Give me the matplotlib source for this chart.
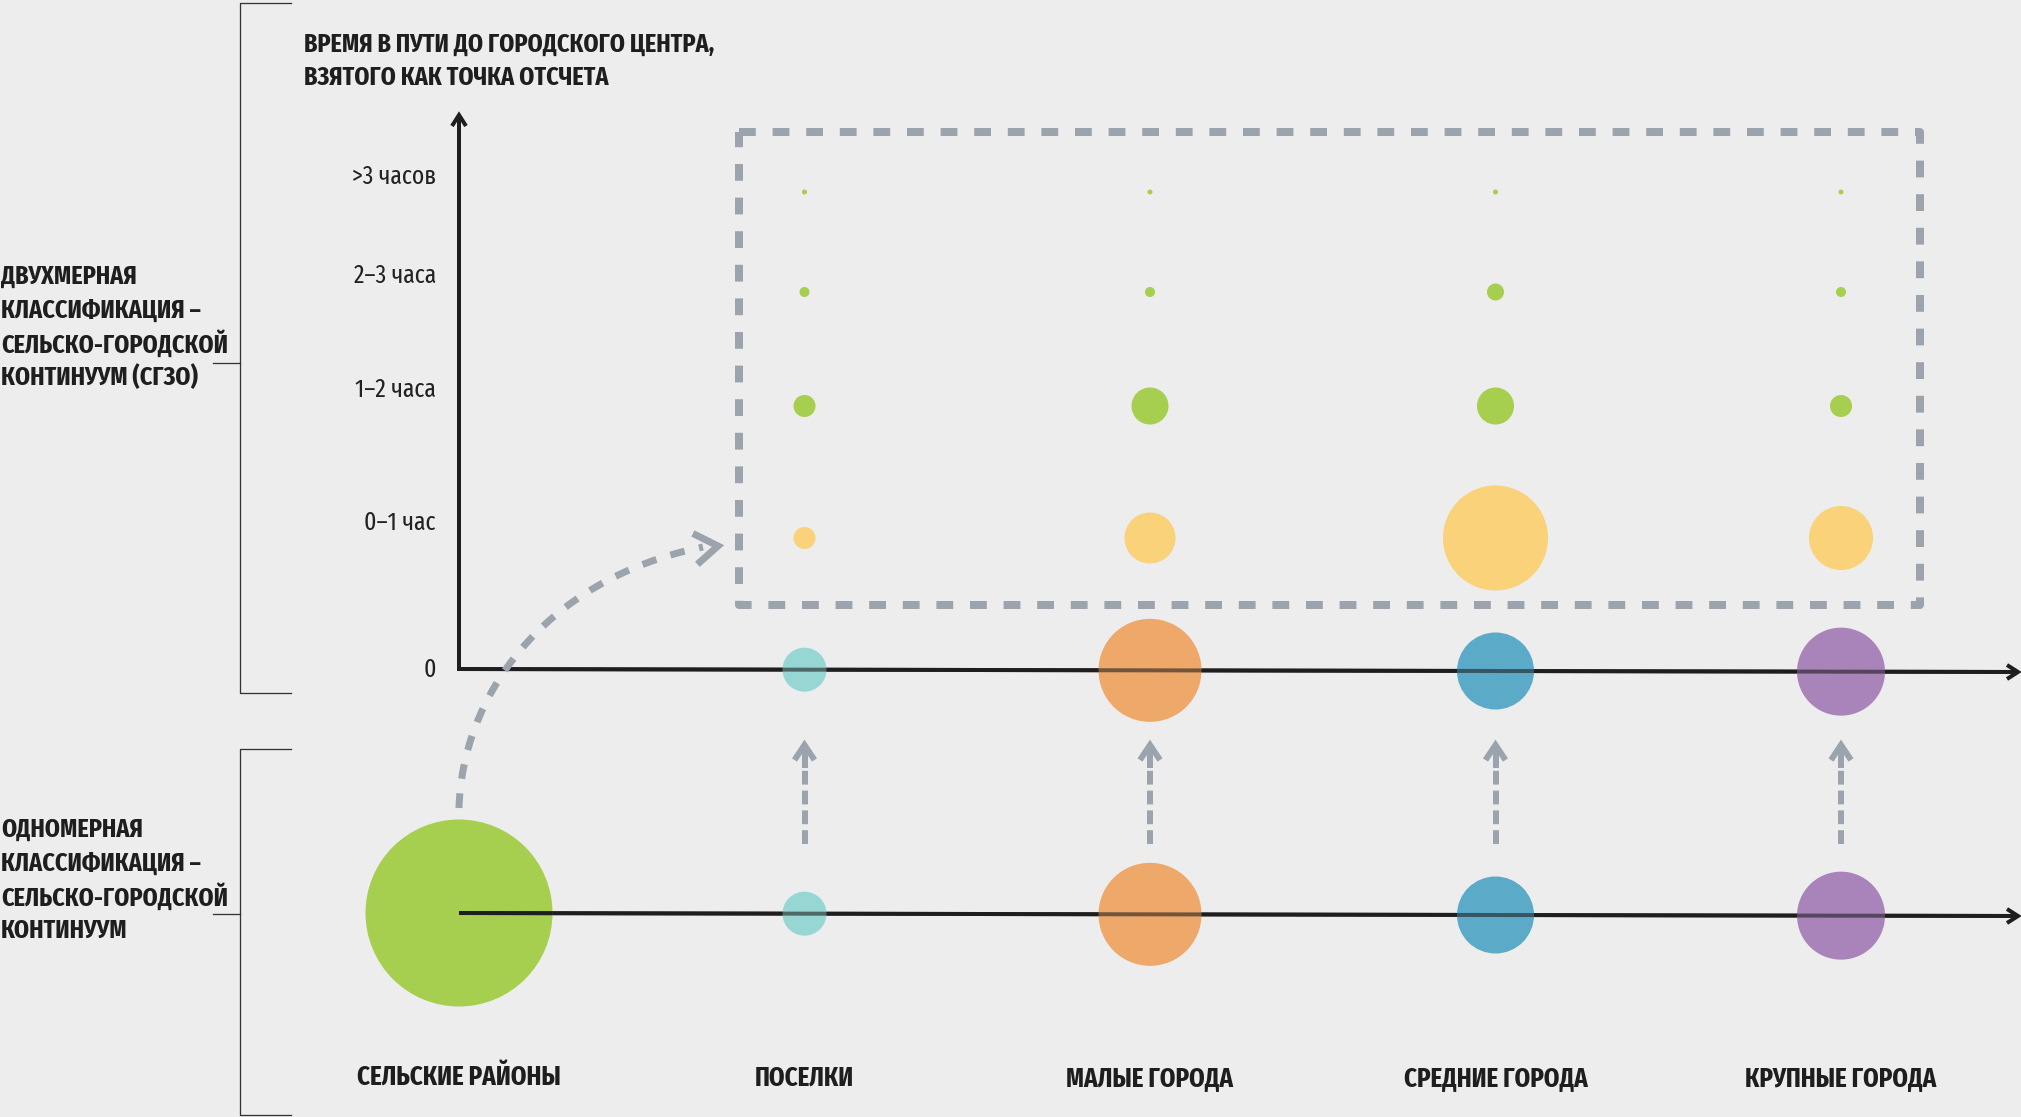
import numpy as np
from matplotlib import pyplot as plt
from matplotlib.patches import Circle, PathPatch
from matplotlib.path import Path

# --- data ---------------------------------------------------------------
CATEGORIES = ['СЕЛЬСКИЕ РАЙОНЫ', 'ПОСЕЛКИ', 'МАЛЫЕ ГОРОДА', 'СРЕДНИЕ ГОРОДА', 'КРУПНЫЕ ГОРОДА']
CAT_COLORS = ['#a6ce4f', '#97d7d3', '#eea86a', '#5aaac8', '#a984bb']

# bubble diameter (px) in the one-dimensional classification
ONE_DIM_SIZE = [187, 44, 103, 77, 88]

# two-dimensional classification: travel time rows for the urban classes
TIME_LABELS = ['0', '0–1 час', '1–2 часа', '2–3 часа', '>3 часов']
TIME_SIZE_01 = [22, 51, 105, 64]
TIME_SIZE_12 = [22, 37, 37, 22]
TIME_SIZE_23 = [10, 10, 17, 10]
TIME_SIZE_3P = [5, 5, 5, 5]
TIME_COLORS = ['#f9d27a', '#a6ce4f', '#a6ce4f', '#a6ce4f']

TITLE = ['ВРЕМЯ В ПУТИ ДО ГОРОДСКОГО ЦЕНТРА,', 'ВЗЯТОГО КАК ТОЧКА ОТСЧЕТА']
LABEL_2D = ['ДВУХМЕРНАЯ', 'КЛАССИФИКАЦИЯ –', 'СЕЛЬСКО-ГОРОДСКОЙ', 'КОНТИНУУМ (СГЗО)']
LABEL_1D = ['ОДНОМЕРНАЯ', 'КЛАССИФИКАЦИЯ –', 'СЕЛЬСКО-ГОРОДСКОЙ', 'КОНТИНУУМ']

# --- layout (pixel space) ----------------------------------------------
W, H = 2021, 1117
BG = '#ededed'
INK = '#1e1e1e'
GRAY = '#9ba4ac'
COL_X = 459 + 345.5*np.arange(len(CATEGORIES))
ROW_Y = [669, 538, 406, 292, 192]
TICK_Y = [670, 523, 390, 276, 177]
AXIS_END = 2018


def upper_y(x):
    return 669 + 3.*(x - 459)/(AXIS_END - 459)


def lower_y(x):
    return 913 + 3.*(x - 459)/(AXIS_END - 459)


def chevron(ax, tip, back, half, color, lw, vertical=False):
    tx, ty = tip
    if vertical:
        xs = [tx - half, tx, tx + half]
        ys = [ty + back, ty, ty + back]
    else:
        xs = [tx - back, tx, tx - back]
        ys = [ty - half, ty, ty + half]
    ax.plot(xs, ys, color=color, lw=lw, solid_capstyle='butt', solid_joinstyle='miter', zorder=5)


plt.rcParams['font.family'] = ['Fira Sans Extra Condensed', 'DejaVu Sans']

fig = plt.figure(figsize=(W/100., H/100.), dpi=100, facecolor=BG)
ax = fig.add_axes([0, 0, 1, 1])
ax.set_xlim(0, W)
ax.set_ylim(H, 0)
ax.axis('off')

PX = 0.72  # points per pixel at dpi 100

# brackets on the left
for top, bot, mid in [(3, 693, 363), (749, 1115, 914)]:
    ax.plot([291, 240, 240, 291], [top, top, bot, bot], color='#333333', lw=1.3*PX, zorder=1)
    ax.plot([213, 240], [mid, mid], color='#333333', lw=1.3*PX, zorder=1)

# axes: y axis and the two horizontal axes (drawn again, translucent, over the bubbles)
for alpha, z in [(1., 1), (0.6, 3)]:
    ax.plot([459, AXIS_END - 2], [upper_y(459), upper_y(AXIS_END - 2)], color=INK, lw=4*PX,
            alpha=alpha, zorder=z, solid_capstyle='butt')
    ax.plot([459, AXIS_END - 2], [lower_y(459), lower_y(AXIS_END - 2)], color=INK, lw=4*PX,
            alpha=alpha, zorder=z, solid_capstyle='butt')
ax.plot([459, 459 + ONE_DIM_SIZE[0]/2.], [lower_y(459), lower_y(459 + ONE_DIM_SIZE[0]/2.)],
        color=INK, lw=4*PX, zorder=4, solid_capstyle='butt')
ax.plot([459, 459], [upper_y(459) + 2, 116], color=INK, lw=4*PX, zorder=4, solid_capstyle='butt')
chevron(ax, (459, 115), 11, 7, INK, 4*PX, vertical=True)
chevron(ax, (AXIS_END, upper_y(AXIS_END)), 11, 7, INK, 4*PX)
chevron(ax, (AXIS_END, lower_y(AXIS_END)), 11, 7, INK, 4*PX)

# bubbles: one-dimensional classification
for x, d, c in zip(COL_X, ONE_DIM_SIZE, CAT_COLORS):
    ax.add_patch(Circle((x, lower_y(x)), d/2., facecolor=c, edgecolor='none', zorder=2))

# bubbles: two-dimensional classification, row "0"
for x, d, c in zip(COL_X[1:], ONE_DIM_SIZE[1:], CAT_COLORS[1:]):
    ax.add_patch(Circle((x, upper_y(x)), d/2., facecolor=c, edgecolor='none', zorder=2))

# bubbles: travel time rows
for row, (sizes, color) in enumerate(zip([TIME_SIZE_01, TIME_SIZE_12, TIME_SIZE_23, TIME_SIZE_3P],
                                         TIME_COLORS), start=1):
    for x, d in zip(COL_X[1:], sizes):
        ax.add_patch(Circle((x, ROW_Y[row]), d/2., facecolor=color, edgecolor='none', zorder=2))

# tick labels on the time axis
for y, lab in zip(TICK_Y, TIME_LABELS):
    ax.text(436, y, lab, ha='right', va='center', fontsize=18.5, color='#222222')

# dashed frame around the time rows
bx0, bx1, by0, by1 = 739, 1920, 132, 605
ax.plot([bx0, bx1, bx1, bx0, bx0], [by0, by0, by1, by1, by0], color=GRAY, lw=8*PX,
        dashes=(2.1, 2.1), dash_capstyle='butt', zorder=1)

# curved dashed arrow from rural areas into the frame
curve = Path([(459, 808), (462, 700), (540, 580), (703, 547)],
             [Path.MOVETO, Path.CURVE4, Path.CURVE4, Path.CURVE4])
ax.add_patch(PathPatch(curve, facecolor='none', edgecolor=GRAY, lw=7*PX,
                       linestyle=(0, (2.1, 2.1)), capstyle='butt', zorder=4))
ax.plot([696, 718, 700], [535, 546, 562], color=GRAY, lw=7*PX, solid_joinstyle='miter', zorder=5)

# vertical dashed arrows between the two classifications
for x in COL_X[1:]:
    ax.plot([x, x], [844, 766], color=GRAY, lw=6*PX, dashes=(2.3, 1.0), dash_capstyle='butt', zorder=1)
    ax.plot([x, x], [768, 748], color=GRAY, lw=6*PX, solid_capstyle='butt', zorder=1)
    chevron(ax, (x, 745), 15, 10, GRAY, 6*PX, vertical=True)

# texts
for i, line in enumerate(TITLE):
    ax.text(304, 45 + 33*i, line, ha='left', va='center', fontsize=18.8, fontweight='bold', color=INK)
for i, line in enumerate(LABEL_2D):
    ax.text(1, 277 + 33.5*i, line, ha='left', va='center', fontsize=18.8, fontweight='bold', color=INK)
for i, line in enumerate(LABEL_1D):
    ax.text(1, 830 + 33.5*i, line, ha='left', va='center', fontsize=18.8, fontweight='bold', color=INK)
for x, name in zip(COL_X, CATEGORIES):
    ax.text(x, 1078, name, ha='center', va='center', fontsize=19.5, fontweight='bold', color=INK)

fig.savefig('out.png', facecolor=fig.get_facecolor())
